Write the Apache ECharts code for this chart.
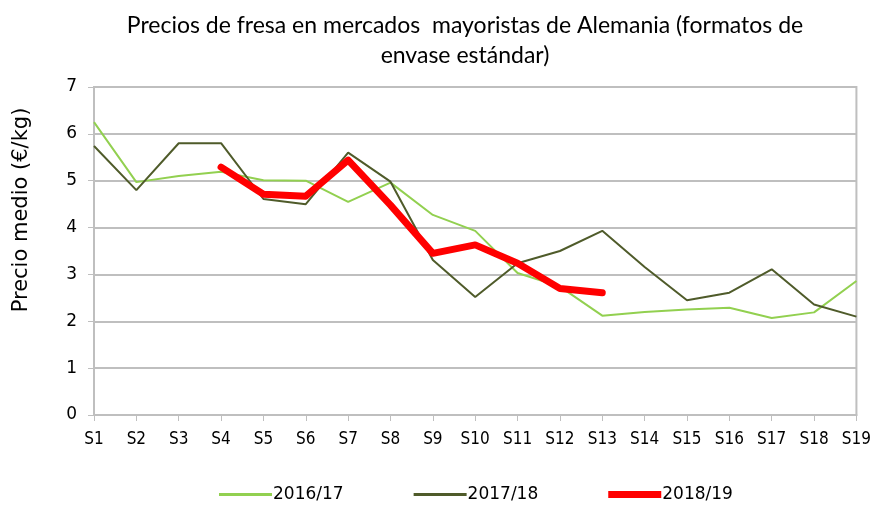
<!DOCTYPE html>
<html>
<head>
<meta charset="utf-8">
<script src="https://cdn.jsdelivr.net/npm/echarts@6/dist/echarts.min.js"></script>
<style>
  html, body { margin: 0; padding: 0; background: #fff; }
  #chart { width: 874px; height: 505px; }
</style>
</head>
<body>
<div id="chart"></div>
<script>
// semanas
const weeks = ['S1','S2','S3','S4','S5','S6','S7','S8','S9','S10','S11','S12','S13','S14','S15','S16','S17','S18','S19'];
// precio medio (€/kg) por campaña
const s1617 = [6.25, 4.97, 5.10, 5.19, 5.01, 5.00, 4.55, 4.96, 4.27, 3.93, 3.03, 2.74, 2.12, 2.20, 2.25, 2.29, 2.07, 2.19, 2.86];
const s1718 = [5.74, 4.80, 5.80, 5.80, 4.61, 4.50, 5.60, 4.98, 3.31, 2.52, 3.24, 3.50, 3.93, 3.16, 2.45, 2.61, 3.11, 2.36, 2.10];
const s1819 = [null, null, null, 5.29, 4.71, 4.67, 5.44, 4.48, 3.45, 3.63, 3.24, 2.70, 2.61, null, null, null, null, null, null];
const yTicks = [0, 1, 2, 3, 4, 5, 6, 7];

const chart = echarts.init(document.getElementById('chart'));
const labelFont = 'DejaVu Sans Condensed';
const thinIcon = 'path://M0,0L53,0L53,3L0,3Z';
const thickIcon = 'path://M0,0L53,0L53,7L0,7Z';

chart.setOption({
  animation: false,
  title: {
    text: 'Precios de fresa en mercados  mayoristas de Alemania (formatos de\nenvase estándar)',
    left: 460,
    top: 6,
    textAlign: 'center',
    textStyle: { fontFamily: 'Lato', fontWeight: 'normal', fontSize: 23, color: '#000', lineHeight: 30 }
  },
  graphic: [{
    type: 'text',
    x: 22, y: 210,
    rotation: Math.PI / 2,
    style: {
      text: 'Precio medio (€/kg)',
      font: '21px "DejaVu Sans"',
      fill: '#000',
      align: 'center',
      verticalAlign: 'middle'
    }
  }],
  grid: {
    left: 94, right: 17, top: 87, bottom: 90,
    show: true, borderColor: '#bfbfbf', borderWidth: 2
  },
  legend: {
    top: 481,
    left: 214,
    itemGap: 70,
    itemWidth: 53,
    itemHeight: 7,
    textStyle: { fontFamily: 'DejaVu Sans', fontSize: 17, color: '#000', padding: [0, 0, 0, -4] },
    data: [
      { name: '2016/17', icon: thinIcon },
      { name: '2017/18', icon: thinIcon },
      { name: '2018/19', icon: thickIcon }
    ]
  },
  xAxis: {
    type: 'category',
    data: weeks,
    boundaryGap: false,
    axisLine: { lineStyle: { color: '#bfbfbf', width: 2 } },
    axisTick: { show: true, length: 6, lineStyle: { color: '#bfbfbf' } },
    axisLabel: { fontFamily: labelFont, fontSize: 17, color: '#000', margin: 16 },
    splitLine: { show: false }
  },
  yAxis: {
    type: 'value',
    min: 0, max: 7, interval: 1,
    axisLine: { show: true, lineStyle: { color: '#bfbfbf', width: 2 } },
    axisTick: { show: true, length: 6, lineStyle: { color: '#bfbfbf' } },
    axisLabel: {
      fontFamily: 'DejaVu Sans', fontSize: 17, color: '#000', margin: 17,
      formatter: v => yTicks.includes(v) ? String(v) : ''
    },
    splitLine: { lineStyle: { color: '#bfbfbf', width: 2 } }
  },
  series: [
    {
      name: '2016/17', type: 'line', data: s1617, symbol: 'none',
      lineStyle: { color: '#92d050', width: 2 }, itemStyle: { color: '#92d050' }
    },
    {
      name: '2017/18', type: 'line', data: s1718, symbol: 'none',
      lineStyle: { color: '#4f5b2a', width: 2 }, itemStyle: { color: '#4f5b2a' }
    },
    {
      name: '2018/19', type: 'line', data: s1819, symbol: 'none',
      lineStyle: { color: '#ff0000', width: 7, cap: 'round', join: 'round' }, itemStyle: { color: '#ff0000' }
    }
  ]
});
</script>
</body>
</html>
